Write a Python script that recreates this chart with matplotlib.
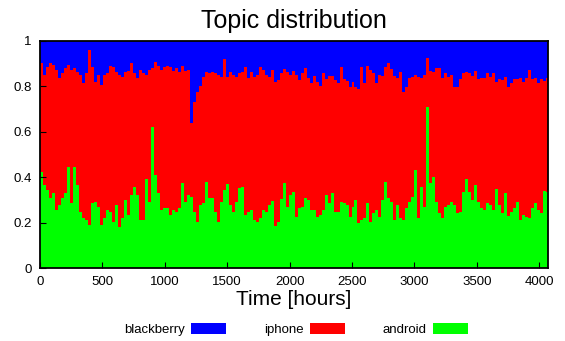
import numpy as np
import matplotlib.pyplot as plt

plt.rcParams['font.family'] = ['Liberation Sans', 'DejaVu Sans']

# share of android per 24h bin
android = [0.424, 0.366, 0.344, 0.307, 0.33, 0.255, 0.277, 0.307, 0.329, 0.444,
           0.285, 0.446, 0.366, 0.248, 0.219, 0.211, 0.189, 0.285, 0.292, 0.27,
           0.189, 0.219, 0.255, 0.248, 0.204, 0.277, 0.182, 0.219, 0.299, 0.233,
           0.322, 0.358, 0.322, 0.211, 0.211, 0.39, 0.292, 0.62, 0.41, 0.329,
           0.255, 0.263, 0.263, 0.233, 0.255, 0.248, 0.263, 0.373, 0.292, 0.322,
           0.314, 0.248, 0.204, 0.277, 0.285, 0.38, 0.307, 0.307, 0.248, 0.204,
           0.292, 0.344, 0.37, 0.277, 0.248, 0.292, 0.351, 0.358, 0.233, 0.248,
           0.255, 0.211, 0.204, 0.219, 0.255, 0.248, 0.277, 0.296, 0.185, 0.204,
           0.303, 0.373, 0.27, 0.322, 0.336, 0.226, 0.263, 0.27, 0.307, 0.299,
           0.255, 0.255, 0.226, 0.233, 0.255, 0.322, 0.285, 0.329, 0.248, 0.248,
           0.292, 0.285, 0.277, 0.226, 0.27, 0.299, 0.197, 0.211, 0.219, 0.285,
           0.204, 0.241, 0.255, 0.226, 0.299, 0.38, 0.307, 0.292, 0.211, 0.277,
           0.219, 0.211, 0.263, 0.292, 0.314, 0.432, 0.219, 0.358, 0.27, 0.71,
           0.373, 0.402, 0.292, 0.241, 0.219, 0.27, 0.277, 0.292, 0.277, 0.241,
           0.248, 0.336, 0.39, 0.336, 0.299, 0.366, 0.292, 0.263, 0.255, 0.285,
           0.277, 0.255, 0.347, 0.277, 0.241, 0.329, 0.229, 0.248, 0.263, 0.292,
           0.211, 0.233, 0.226, 0.219, 0.263, 0.285, 0.255, 0.241, 0.34, 0.333]

# upper edge of the iphone band (android + iphone)
iphone_top = [0.902, 0.85, 0.887, 0.902, 0.894, 0.872, 0.835, 0.858, 0.88, 0.894,
              0.872, 0.88, 0.865, 0.85, 0.813, 0.858, 0.96, 0.887, 0.821, 0.85,
              0.806, 0.85, 0.858, 0.89, 0.887, 0.865, 0.85, 0.843, 0.865, 0.869,
              0.902, 0.858, 0.835, 0.872, 0.858, 0.85, 0.872, 0.88, 0.909, 0.89,
              0.872, 0.887, 0.89, 0.884, 0.869, 0.88, 0.865, 0.89, 0.869, 0.872,
              0.64, 0.733, 0.777, 0.80, 0.84, 0.865, 0.858, 0.865, 0.86, 0.85,
              0.843, 0.919, 0.843, 0.865, 0.85, 0.843, 0.858, 0.865, 0.884, 0.835,
              0.865, 0.843, 0.85, 0.887, 0.872, 0.85, 0.843, 0.872, 0.821, 0.828,
              0.858, 0.875, 0.865, 0.85, 0.869, 0.85, 0.828, 0.858, 0.88, 0.835,
              0.813, 0.846, 0.821, 0.801, 0.86, 0.831, 0.846, 0.846, 0.828, 0.816,
              0.884, 0.831, 0.825, 0.796, 0.821, 0.799, 0.787, 0.887, 0.813, 0.89,
              0.872, 0.858, 0.816, 0.85, 0.846, 0.884, 0.902, 0.875, 0.846, 0.835,
              0.865, 0.775, 0.799, 0.835, 0.843, 0.85, 0.843, 0.835, 0.85, 0.924,
              0.869, 0.865, 0.88, 0.88, 0.835, 0.858, 0.843, 0.85, 0.799, 0.799,
              0.831, 0.858, 0.865, 0.858, 0.846, 0.869, 0.831, 0.835, 0.835, 0.858,
              0.84, 0.858, 0.821, 0.831, 0.828, 0.843, 0.799, 0.813, 0.831, 0.831,
              0.835, 0.821, 0.835, 0.872, 0.831, 0.835, 0.813, 0.831, 0.825, 0.835]

android = np.array(android)
iphone_top = np.array(iphone_top)
iphone = iphone_top - android
blackberry = 1 - iphone_top

hours = np.arange(len(android) + 1) * 24
# repeat last value so the final step is drawn
a = np.append(android, android[-1])
i = np.append(iphone, iphone[-1])
b = np.append(blackberry, blackberry[-1])

fig = plt.figure(figsize=(5.65, 3.41), dpi=100)
ax = fig.add_axes([0.0708, 0.214, 0.899, 0.666])

ax.stackplot(hours, a, i, b, step='post',
             colors=['#00ff00', '#ff0000', '#0000ff'],
             labels=['android', 'iphone', 'blackberry'], linewidth=0)

ax.set_xlim(0, 4070)
ax.set_ylim(0, 1)
ax.set_xticks([0, 500, 1000, 1500, 2000, 2500, 3000, 3500, 4000])
ax.set_yticks([0, 0.2, 0.4, 0.6, 0.8, 1])
ax.set_yticklabels(['0', '0.2', '0.4', '0.6', '0.8', '1'])
ax.tick_params(direction='in', length=4, labelsize=9.5, pad=6)
for s in ax.spines.values():
    s.set_linewidth(1.3)

ax.set_title('Topic distribution', fontsize=18, pad=9)
ax.set_xlabel('Time [hours]', fontsize=15, labelpad=1)

h, l = ax.get_legend_handles_labels()
fig.legend(h[::-1], l[::-1], loc='center', bbox_to_anchor=(0.524, 0.035),
           ncol=3, frameon=False, markerfirst=False, fontsize=9.5,
           handlelength=2.65, handleheight=0.9, columnspacing=2.9, handletextpad=0.45)

fig.savefig('out.png', dpi=100)
